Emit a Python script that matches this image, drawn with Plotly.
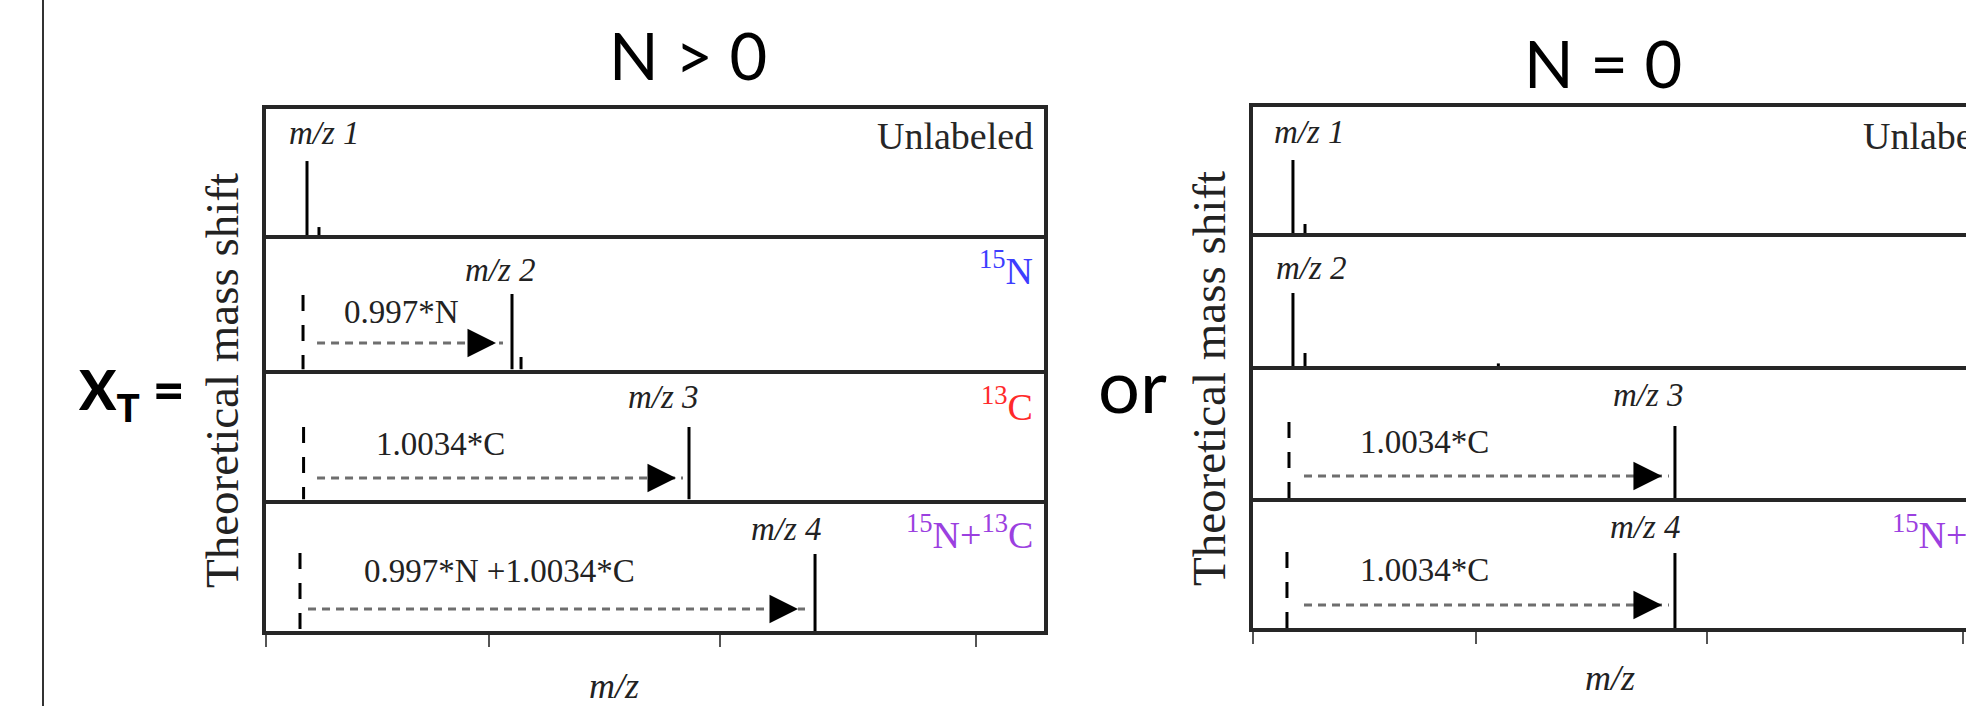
import plotly.graph_objects as go

W, H = 1966, 706

# ---------------- data ----------------
panel_tags = ["Unlabeled", "<sup>15</sup>N", "<sup>13</sup>C", "<sup>15</sup>N+<sup>13</sup>C"]
tag_colors = ["#262626", "#3d3dff", "#ff2a2a", "#9b40e0"]
peak_names = ["m/z 1", "m/z 2", "m/z 3", "m/z 4"]
tick_mz = [0, 28.7, 58.4, 91.3]

# N > 0 (left figure)
npos_peak_mz = [5.27, 31.62, 54.37, 70.57]
npos_peak_int = [58.7, 57.9, 57.5, 60.4]
npos_iso_mz = [6.81, 32.78, None, None]
npos_iso_int = [6.3, 9.6, None, None]
npos_base_mz = [None, 4.76, 4.83, 4.37]
npos_base_int = [None, 57.1, 57.5, 61.2]
npos_shift_from = [None, 6.56, 6.56, 5.4]
npos_shift_to = [None, 30.46, 53.6, 69.28]
npos_shift_level = [None, 20.3, 17.1, 17.3]
npos_shift_text = [None, "0.997*N", "1.0034*C", "0.997*N +1.0034*C"]
npos_resid_mz = [None, None, None, None]
npos_resid_int = [None, None, None, None]

# N = 0 (right figure)
nzero_peak_mz = [5.2, 5.2, 54.3, 54.3]
nzero_peak_int = [57.9, 56.6, 56.3, 59.5]
nzero_iso_mz = [6.75, 6.75, None, None]
nzero_iso_int = [7.1, 10.1, None, None]
nzero_base_mz = [None, None, 4.69, 4.43]
nzero_base_int = [None, None, 59.4, 60.3]
nzero_shift_from = [None, None, 6.62, 6.62]
nzero_shift_to = [None, None, 53.53, 53.53]
nzero_shift_level = [None, None, 17.2, 18.3]
nzero_shift_text = [None, None, "1.0034*C", "1.0034*C"]
nzero_resid_mz = [None, 31.6, None, None]
nzero_resid_int = [None, 2.0, None, None]

# ---------------- layout constants ----------------
sides = [
    dict(title="N > 0", title_xy=(688, 55), rows=[107, 237, 371.5, 501.5, 633],
         x_left=264, x_right=1046, ytitle_xy=(222, 381), xtitle_xy=(614, 686),
         peak_lbl=[(7.46, 81), (30.08, 76.2), (51.03, 81.3), (66.9, 80)],
         shift_lbl=[None, (17.42, 43.7), (22.43, 43.7), (29.95, 46.7)],
         tag_lbl=[(98.8, 78.6), (98.8, 77.8), (98.8, 75.8), (98.8, 77.6)],
         data=dict(pk=npos_peak_mz, pi=npos_peak_int, im=npos_iso_mz, ii=npos_iso_int,
                   bm=npos_base_mz, bi=npos_base_int, sf=npos_shift_from, st=npos_shift_to,
                   sl=npos_shift_level, tx=npos_shift_text, rm=npos_resid_mz, ri=npos_resid_int)),
    dict(title="N = 0", title_xy=(1602.5, 63), rows=[105, 235, 368, 500, 630],
         x_left=1250.5, x_right=None, ytitle_xy=(1209, 379), xtitle_xy=(1609.5, 678),
         peak_lbl=[(7.39, 80.2), (7.52, 75.6), (50.84, 80.1), (50.45, 79.8)],
         shift_lbl=[None, None, (22.1, 43.8), (22.1, 46)],
         tag_lbl=[(98.8, 77), (98.8, 77), (98.8, 76), (98.8, 76.2)],
         data=dict(pk=nzero_peak_mz, pi=nzero_peak_int, im=nzero_iso_mz, ii=nzero_iso_int,
                   bm=nzero_base_mz, bi=nzero_base_int, sf=nzero_shift_from, st=nzero_shift_to,
                   sl=nzero_shift_level, tx=nzero_shift_text, rm=nzero_resid_mz, ri=nzero_resid_int)),
]

LW = 4
SCALE = 7.78  # px per m/z unit
SERIF = "Liberation Serif, Times New Roman, serif"
SANS = "Lato, Open Sans, sans-serif"
TXT = "#222222"

fig = go.Figure()
layout = dict(width=W, height=H, margin=dict(l=0, r=0, t=0, b=0),
              paper_bgcolor="white", plot_bgcolor="white", showlegend=False)
annotations = []


def stems(xs, hs):
    X, Y = [], []
    for x, h in zip(xs, hs):
        X += [x, x, None]
        Y += [0, h, None]
    return X, Y


for s, side in enumerate(sides):
    d = side["data"]
    xl = side["x_left"] + LW / 2
    xr = (side["x_right"] - LW / 2) if side["x_right"] else W
    xmax = (xr - xl) / SCALE
    for k in range(4):
        n = s * 4 + k + 1
        top = side["rows"][k] + LW / 2
        bot = side["rows"][k + 1] - LW / 2
        xa = dict(domain=[xl / W, xr / W], range=[0, xmax], anchor=f"y{n}",
                  showline=True, linewidth=LW, linecolor="#262626", mirror=(k == 0),
                  showgrid=False, zeroline=False, showticklabels=False, fixedrange=True)
        if k == 3:
            xa.update(ticks="outside", tickvals=tick_mz, ticklen=12, tickwidth=2, tickcolor="#555555")
        else:
            xa.update(ticks="")
        ya = dict(domain=[1 - bot / H, 1 - top / H], range=[0, 100], anchor=f"x{n}",
                  showline=True, linewidth=LW, linecolor="#262626", mirror=(s == 0),
                  showgrid=False, zeroline=False, showticklabels=False, ticks="", fixedrange=True)
        layout["xaxis" if n == 1 else f"xaxis{n}"] = xa
        layout["yaxis" if n == 1 else f"yaxis{n}"] = ya
        xr_, yr_ = ("x" if n == 1 else f"x{n}"), ("y" if n == 1 else f"y{n}")

        # main + isotope + residual peaks
        pm = [d["pk"][k]] + ([d["im"][k]] if d["im"][k] is not None else []) \
            + ([d["rm"][k]] if d["rm"][k] is not None else [])
        pi = [d["pi"][k]] + ([d["ii"][k]] if d["ii"][k] is not None else []) \
            + ([d["ri"][k]] if d["ri"][k] is not None else [])
        X, Y = stems(pm, pi)
        fig.add_trace(go.Scatter(x=X, y=Y, mode="lines", xaxis=xr_, yaxis=yr_,
                                 line=dict(color="black", width=3), hoverinfo="skip"))

        # dashed reference line (unshifted position)
        if d["bm"][k] is not None:
            fig.add_trace(go.Scatter(x=[d["bm"][k], d["bm"][k]], y=[d["bi"][k], 0], mode="lines",
                                     xaxis=xr_, yaxis=yr_,
                                     line=dict(color="black", width=3, dash="16px,14px"),
                                     hoverinfo="skip"))
        # dotted shift arrow
        if d["sf"][k] is not None:
            fig.add_trace(go.Scatter(x=[d["sf"][k], d["st"][k]], y=[d["sl"][k], d["sl"][k]],
                                     mode="lines", xaxis=xr_, yaxis=yr_,
                                     line=dict(color="#6e6e6e", width=3, dash="8px,6px"),
                                     hoverinfo="skip"))
            annotations.append(dict(x=d["st"][k], y=d["sl"][k], xref=xr_, yref=yr_, text="",
                                    showarrow=True, arrowhead=2, arrowsize=1.9, arrowwidth=3,
                                    arrowcolor="black", ax=-16, ay=0, xshift=-7))
            lx, ly = side["shift_lbl"][k]
            annotations.append(dict(x=lx, y=ly, xref=xr_, yref=yr_, text=d["tx"][k],
                                    showarrow=False, xanchor="center", yanchor="middle",
                                    font=dict(family=SERIF, size=33, color=TXT)))
        # peak label
        px_, py_ = side["peak_lbl"][k]
        annotations.append(dict(x=px_, y=py_, xref=xr_, yref=yr_, text=f"<i>{peak_names[k]}</i>",
                                showarrow=False, xanchor="center", yanchor="middle",
                                font=dict(family=SERIF, size=33, color=TXT)))
        # labelling-state tag (paper coords so it may run past the edge)
        tx, ty = side["tag_lbl"][k]
        tx_paper = (xl + tx * SCALE) / W
        ty_paper = (1 - bot / H) + ty / 100 * ((bot - top) / H)
        annotations.append(dict(x=tx_paper, y=ty_paper, xref="paper", yref="paper",
                                text=panel_tags[k], showarrow=False, xanchor="right",
                                yanchor="middle",
                                font=dict(family=SERIF, size=38, color=tag_colors[k])))

    # titles
    tx, ty = side["title_xy"]
    annotations.append(dict(x=tx / W, y=1 - ty / H, xref="paper", yref="paper", text=side["title"],
                            showarrow=False, xanchor="center", yanchor="middle",
                            font=dict(family=SANS, size=65, color="black")))
    yx, yy = side["ytitle_xy"]
    annotations.append(dict(x=yx / W, y=1 - yy / H, xref="paper", yref="paper",
                            text="Theoretical mass shift", textangle=-90, showarrow=False,
                            xanchor="center", yanchor="middle",
                            font=dict(family=SERIF, size=47, color=TXT)))
    mx, my = side["xtitle_xy"]
    annotations.append(dict(x=mx / W, y=1 - my / H, xref="paper", yref="paper",
                            text="<i>m/z</i>", showarrow=False, xanchor="center", yanchor="middle",
                            font=dict(family=SERIF, size=36, color=TXT)))

annotations.append(dict(x=76 / W, y=1 - 393 / H, xref="paper", yref="paper",
                        text="X<sub>T</sub> =", showarrow=False, xanchor="left",
                        yanchor="middle",
                        font=dict(family=SANS, size=55, color="black", weight=900)))
annotations.append(dict(x=1132 / W, y=1 - 384 / H, xref="paper", yref="paper",
                        text="or", showarrow=False, xanchor="center", yanchor="middle",
                        font=dict(family=SANS, size=74, color="black")))

layout["annotations"] = annotations
layout["shapes"] = [dict(type="line", xref="paper", yref="paper", x0=43 / W, x1=43 / W,
                         y0=0, y1=1, line=dict(color="#333333", width=2))]
fig.update_layout(**layout)

fig.write_html("out.html", config={"displayModeBar": False},
               post_script="document.body.style.margin='0';document.body.style.overflow='hidden';")
